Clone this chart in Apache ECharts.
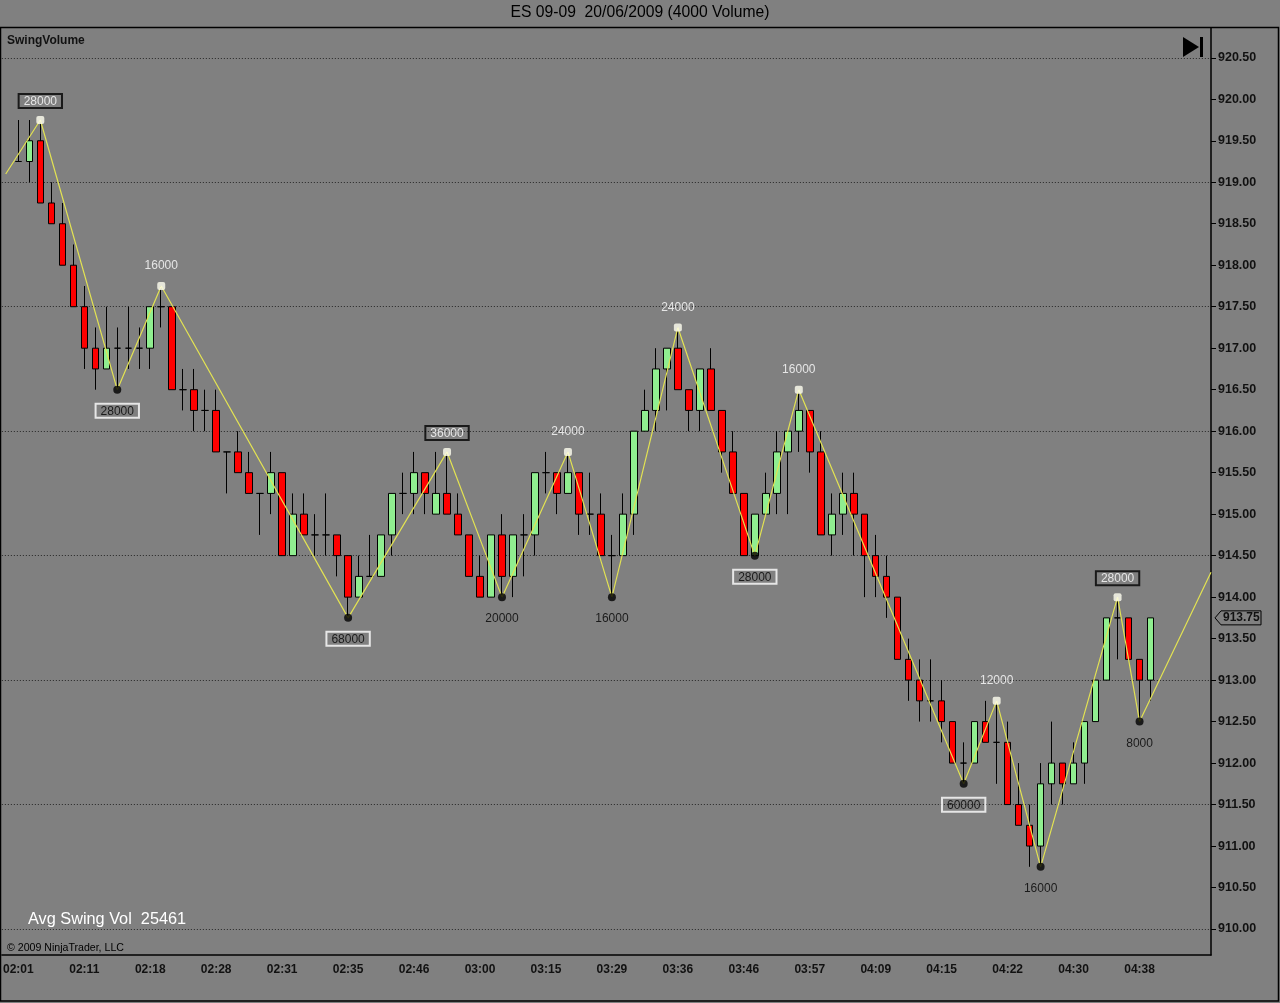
<!DOCTYPE html>
<html><head><meta charset="utf-8">
<script src="https://cdn.jsdelivr.net/npm/echarts@6/dist/echarts.min.js"></script>
<style>html,body{margin:0;padding:0;background:#808080;}#c{width:1280px;height:1003px;}</style>
</head><body><div id="c"></div>
<script>
// ---- data ----
const timeLabels = ["02:01","02:11","02:18","02:28","02:31","02:35","02:46","03:00","03:15","03:29","03:36","03:46","03:57","04:09","04:15","04:22","04:30","04:38"];
const labelStep = 6;
const opens  = [919.25,919.25,919.5,918.75,918.5,918.0,917.5,917.0,916.75,917.0,917.0,917.0,917.0,917.5,917.5,916.5,916.5,916.25,916.25,915.75,
                915.75,915.5,915.25,915.25,915.5,914.5,915.0,914.75,914.75,914.75,914.5,914.0,914.25,914.25,914.75,915.25,915.25,915.5,915.0,915.25,
                915.0,914.75,914.25,914.0,914.75,914.25,914.75,914.75,915.5,915.5,915.25,915.5,915.0,915.0,914.5,914.5,915.0,916.0,916.25,916.75,
                917.0,916.5,916.25,916.75,916.25,915.75,915.25,914.5,915.0,915.25,915.75,916.0,916.25,915.75,914.75,915.0,915.25,915.0,914.5,914.25,
                914.0,913.25,913.0,912.75,912.75,912.5,912.0,912.0,912.5,912.25,912.25,911.5,911.25,911.0,911.75,912.0,911.75,912.0,912.5,913.0,
                913.75,913.75,913.25,913.0];
const closes = [919.25,919.5,918.75,918.5,918.0,917.5,917.0,916.75,917.0,917.0,917.0,917.0,917.5,917.5,916.5,916.5,916.25,916.25,915.75,915.75,
                915.5,915.25,915.25,915.5,914.5,915.0,914.75,914.75,914.75,914.5,914.0,914.25,914.25,914.75,915.25,915.25,915.5,915.25,915.25,915.0,
                914.75,914.25,914.0,914.75,914.25,914.75,914.75,915.5,915.5,915.25,915.5,915.0,915.0,914.5,914.5,915.0,916.0,916.25,916.75,917.0,
                916.5,916.25,916.75,916.25,915.75,915.25,914.5,915.0,915.25,915.75,916.0,916.25,915.75,914.75,915.0,915.25,915.0,914.5,914.25,914.0,
                913.25,913.0,912.75,912.75,912.5,912.0,912.0,912.5,912.25,912.25,911.5,911.25,911.0,911.75,912.0,911.75,912.0,912.5,913.0,913.75,
                913.75,913.25,913.0,913.75];
const lows   = [919.25,919.0,918.75,918.5,918.0,917.5,916.75,916.5,916.75,916.5,916.75,916.75,916.75,917.25,916.5,916.25,916.0,916.0,915.75,915.25,
                915.5,915.25,914.75,915.0,914.5,914.5,914.75,914.5,914.5,914.25,913.75,914.0,914.25,914.25,914.5,915.0,915.0,915.0,915.0,915.0,
                914.75,914.25,914.0,914.0,914.0,914.0,914.25,914.5,915.25,915.0,915.25,914.75,914.75,914.5,914.0,914.5,914.75,916.0,916.0,916.25,
                916.5,916.0,916.0,916.25,915.5,915.25,914.5,914.5,915.0,915.0,915.0,915.75,915.5,914.75,914.5,914.75,914.5,914.0,914.0,913.75,
                913.25,912.75,912.5,912.5,912.25,912.0,911.75,912.0,912.25,911.75,911.5,911.25,910.75,910.75,911.5,911.5,911.75,911.75,912.5,913.0,
                913.25,913.25,912.5,912.75];
const highs  = [919.75,919.75,919.75,919.0,918.75,918.25,917.75,917.25,917.5,917.25,917.5,917.25,917.5,917.75,917.5,916.75,916.75,916.5,916.5,915.75,
                916.0,915.75,915.25,915.75,915.5,915.25,915.25,915.0,915.25,914.75,914.5,914.5,914.75,914.75,915.25,915.5,915.75,915.5,915.75,915.75,
                915.25,914.75,914.5,914.75,915.0,914.75,915.0,915.5,915.75,915.5,915.75,915.5,915.5,915.25,914.75,915.25,916.0,916.5,917.0,917.0,
                917.25,916.5,916.75,917.0,916.25,916.0,915.25,915.0,915.5,916.0,916.0,916.5,916.25,916.0,915.25,915.5,915.5,915.0,914.75,914.5,
                914.0,913.5,913.25,913.25,913.0,912.5,912.25,912.5,912.75,912.75,912.5,912.0,911.5,912.0,912.5,912.0,912.25,912.5,913.0,913.75,
                914.0,913.75,913.25,913.75];
const swingHighIdx   = [2, 13, 39, 50, 60, 71, 89, 100];
const swingHighPrice = [919.75, 917.75, 915.75, 915.75, 917.25, 916.5, 912.75, 914.0];
const swingHighVol   = [28000, 16000, 36000, 24000, 24000, 16000, 12000, 28000];
const swingHighBoxed = [1, 0, 1, 0, 0, 0, 0, 1];
const swingLowIdx    = [9, 30, 44, 54, 67, 86, 93, 102];
const swingLowPrice  = [916.5, 913.75, 914.0, 914.0, 914.5, 911.75, 910.75, 912.5];
const swingLowVol    = [28000, 68000, 20000, 16000, 28000, 60000, 16000, 8000];
const swingLowBoxed  = [1, 1, 0, 0, 1, 1, 0, 0];
const zigStart = [-1.15, 919.1];
const zigEnd   = [108.5, 914.3];
const priceLabels = [910,910.5,911,911.5,912,912.5,913,913.5,914,914.5,915,915.5,916,916.5,917,917.5,918,918.5,919,919.5,920,920.5];
const gridLevels  = [910, 911.5, 913, 914.5, 916, 917.5, 919, 920.5];
const avgSwingVol = 25461;
const titleText = "ES 09-09  20/06/2009 (4000 Volume)";

// ---- build ----
const FONT = "'Liberation Sans', Arial, sans-serif";
const nCats = 110;               // 1 leading pad + bars + trailing pad
const cats = new Array(nCats).fill('');
const labelIdx = {};
timeLabels.forEach((t, j) => { cats[1 + j * labelStep] = t; labelIdx[1 + j * labelStep] = true; });
const candleData = ['-'];
for (let i = 0; i < opens.length; i++) candleData.push([opens[i], closes[i], lows[i], highs[i]]);
while (candleData.length < nCats) candleData.push('-');

const pivots = [];
swingHighIdx.forEach((x, k) => pivots.push([x, swingHighPrice[k]]));
swingLowIdx.forEach((x, k) => pivots.push([x, swingLowPrice[k]]));
pivots.sort((a, b) => a[0] - b[0]);
const zig = [zigStart].concat(pivots, [zigEnd]);

const highItems = swingHighIdx.map((x, k) => {
  const it = { value: [x, swingHighPrice[k]], vol: swingHighVol[k] };
  if (swingHighBoxed[k]) it.label = { borderColor: '#000', borderWidth: 1, backgroundColor: 'rgba(0,0,0,0)', padding: [2, 5, 0, 5], distance: 8 };
  return it;
});
const lowItems = swingLowIdx.map((x, k) => {
  const it = { value: [x, swingLowPrice[k]], vol: swingLowVol[k] };
  if (swingLowBoxed[k]) it.label = { borderColor: '#fff', borderWidth: 1, backgroundColor: 'rgba(0,0,0,0)', padding: [2, 5, 0, 5], distance: 10 };
  return it;
});

const chart = echarts.init(document.getElementById('c'));
const showIdx = (idx) => !!labelIdx[idx];
chart.setOption({
  animation: false,
  backgroundColor: '#808080',
  grid: { left: 0, right: 69, top: 28, bottom: 48 },
  xAxis: [
    { type: 'category', data: cats, boundaryGap: true, position: 'bottom',
      axisLine: { onZero: false, lineStyle: { color: '#000', width: 1.5 } },
      axisTick: { alignWithLabel: true, interval: showIdx, length: 5, lineStyle: { color: '#000' } },
      axisLabel: { interval: showIdx, color: '#111', fontWeight: 'bold', fontSize: 12, fontFamily: FONT, margin: 9 },
      splitLine: { show: false } },
    { type: 'value', min: -1.5, max: nCats - 1.5, show: false, axisLine: { onZero: false } }
  ],
  yAxis: {
    type: 'value', position: 'right', min: 909.687, max: 920.859, scale: true,
    axisLine: { show: true, onZero: false, lineStyle: { color: '#000', width: 1.5 } },
    axisTick: { show: true, customValues: priceLabels, length: 5, lineStyle: { color: '#000' } },
    axisLabel: { customValues: priceLabels, formatter: (v) => v.toFixed(2), color: '#111', fontWeight: 'bold', fontSize: 12.5, fontFamily: FONT, margin: 7 },
    splitLine: { show: false }
  },
  series: [
    { type: 'candlestick', data: candleData, barWidth: 7, z: 2,
      itemStyle: { color: '#90ee90', color0: '#ff0000', borderColor: '#000', borderColor0: '#000', borderColorDoji: '#000', borderWidth: 1 },
      markLine: { silent: true, symbol: ['none', 'none'], label: { show: false }, z: 1,
        lineStyle: { type: [1, 2], color: '#262626', width: 1 },
        emphasis: { disabled: true },
        data: gridLevels.map(v => ({ yAxis: v })) } },
    { type: 'line', xAxisIndex: 1, data: zig, symbol: 'none', z: 5, silent: true,
      lineStyle: { color: '#e2e252', width: 1.2 } },
    { type: 'scatter', xAxisIndex: 1, data: highItems, symbol: 'roundRect', symbolSize: 8, z: 6,
      itemStyle: { color: '#fffff0' },
      label: { show: true, position: 'top', distance: 10, color: '#fff', fontSize: 12, fontFamily: FONT, formatter: p => p.data.vol } },
    { type: 'scatter', xAxisIndex: 1, data: lowItems, symbol: 'circle', symbolSize: 8, z: 6,
      itemStyle: { color: '#000' },
      label: { show: true, position: 'bottom', distance: 12, color: '#000', fontSize: 12, fontFamily: FONT, formatter: p => p.data.vol } }
  ]
});

const lastPrice = closes[closes.length - 1];
const py = chart.convertToPixel({ yAxisIndex: 0 }, lastPrice);
chart.setOption({
  graphic: [
    { type: 'text', left: 'center', top: 5, style: { text: titleText, fill: '#000', font: '15.7px ' + FONT } },
    { type: 'rect', shape: { x: 0.5, y: 27.5, width: 1278, height: 973.5 }, style: { fill: null, stroke: '#000', lineWidth: 1.5 }, silent: true },
    { type: 'text', x: 7, y: 35, style: { text: 'SwingVolume', fill: '#111', font: 'bold 12px ' + FONT } },
    { type: 'polygon', shape: { points: [[1183, 37], [1183, 57], [1199, 47]] }, style: { fill: '#000' } },
    { type: 'rect', shape: { x: 1200, y: 37, width: 3, height: 20 }, style: { fill: '#000' } },
    { type: 'text', x: 28, y: 912, style: { text: 'Avg Swing Vol  ' + avgSwingVol, fill: '#fff', font: '16.3px ' + FONT } },
    { type: 'text', x: 7, y: 943, style: { text: '\u00a9 2009 NinjaTrader, LLC', fill: '#000', font: '10.6px ' + FONT } },
    { type: 'polygon', shape: { points: [[1215, py], [1221, py - 7], [1261, py - 7], [1261, py + 7], [1221, py + 7]] },
      style: { fill: '#808080', stroke: '#000', lineWidth: 1 } },
    { type: 'text', x: 1223, y: py - 6, style: { text: lastPrice.toFixed(2), fill: '#111', font: 'bold 12px ' + FONT } }
  ]
});
</script></body></html>
